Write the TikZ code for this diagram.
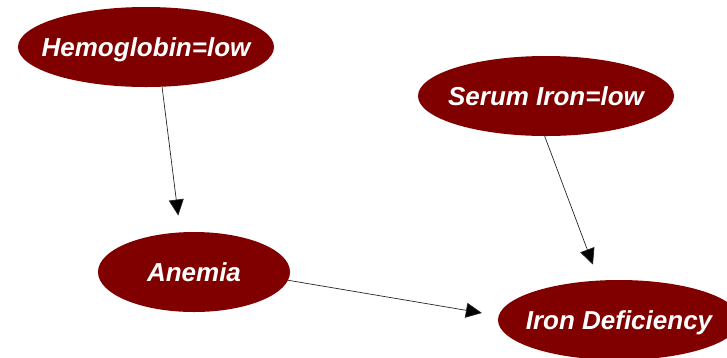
\documentclass[tikz,border=0pt]{standalone}
\usepackage{fontspec}
\setmainfont{Liberation Sans}
\usetikzlibrary{shapes.geometric,arrows.meta}
\definecolor{nodered}{HTML}{800000}
\newcommand{\stxt}[1]{\makebox[0pt][c]{\raisebox{-9.3pt}[0pt][0pt]{#1}}}
\begin{document}
\begin{tikzpicture}[x=1pt,y=-1pt,
  statebox/.style={ellipse,fill=nodered,draw=none,inner sep=0pt,outer sep=0pt,
    minimum height=80pt,text height=0pt,text depth=0pt,
    text=white,font=\fontsize{26}{28}\selectfont\bfseries\itshape},
  link/.style={draw=black!85,line width=0.7pt,-{Triangle[length=16pt,width=15pt,fill=black]},shorten >=17pt}]
\useasboundingbox (0,0) rectangle (727,357);
\node[statebox,minimum width=256pt] (hemo) at (146,47) {\stxt{Hemoglobin=low}};
\node[statebox,minimum width=256pt] (serum) at (546,96) {\stxt{Serum Iron=low}};
\node[statebox,minimum width=192pt] (anemia) at (194,272) {\stxt{Anemia}};
\node[statebox,minimum width=242pt] (irondef) at (619,320) {\stxt{Iron Deficiency}};
\draw[link] (hemo.-68) -- (anemia.109);
\draw[link] (serum.-92) -- (irondef.117);
\draw[link] (anemia.-5) -- (irondef.178);
\end{tikzpicture}
\end{document}
